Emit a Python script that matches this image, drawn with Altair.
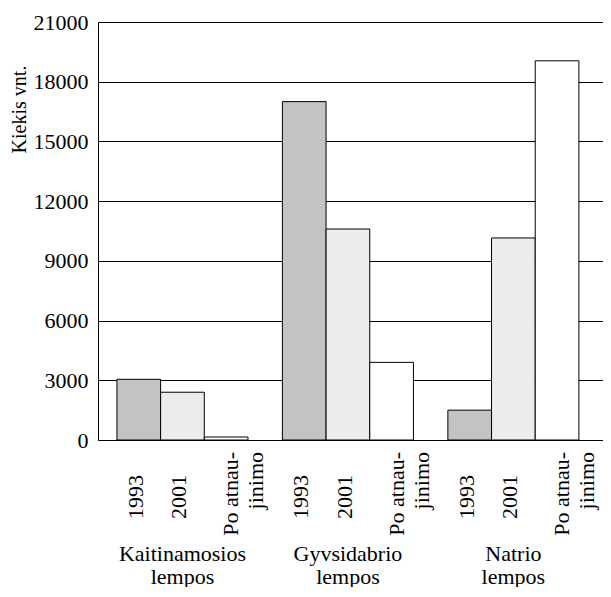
import altair as alt
import pandas as pd

groups = ["Kaitinamosios lempos", "Gyvsidabrio lempos", "Natrio lempos"]
series = ["1993", "2001", "Po atnaujinimo"]
series_labels = [["1993"], ["2001"], ["Po atnau-", "jinimo"]]
v1993 = [3050, 17000, 1500]
v2001 = [2400, 10600, 10150]
vpo = [150, 3900, 19050]
y_ticks = [0, 3000, 6000, 9000, 12000, 15000, 18000, 21000]
colors = ["#c3c3c3", "#ececec", "#ffffff"]

rows = []
for gi, g in enumerate(groups):
    for si, (s, vals) in enumerate(zip(series, [v1993, v2001, vpo])):
        lab = series_labels[si]
        rows.append({
            "group": g,
            "series": s,
            "value": vals[gi],
            "label": lab if len(lab) > 1 else lab[0],
            "multi": len(lab) > 1,
        })
df = pd.DataFrame(rows)

FONT = "Liberation Serif"
FS = 22
H = 418
W = 505

x_enc = alt.X(
    "group:N",
    sort=groups,
    scale=alt.Scale(paddingInner=0.208, paddingOuter=0.13, align=0.44),
    axis=alt.Axis(
        title=None,
        labelAngle=0,
        labelExpr="split(datum.label, ' ')",
        labelPadding=103,
        ticks=False,
        tickSize=0,
        domain=True,
        domainColor="black",
        domainWidth=1,
        labelFont=FONT,
        labelFontSize=FS,
        labelColor="black",
        labelLineHeight=23,
    ),
)
xoff = alt.XOffset("series:N", sort=series, scale=alt.Scale(paddingInner=0, paddingOuter=0))

bars = alt.Chart(df).mark_bar(stroke="black", strokeWidth=1).encode(
    x=x_enc,
    xOffset=xoff,
    y=alt.Y(
        "value:Q",
        scale=alt.Scale(domain=[0, 21000], nice=False),
        axis=alt.Axis(
            values=y_ticks,
            format="d",
            title="Kiekis vnt.",
            grid=True,
            gridColor="black",
            gridOpacity=1,
            gridWidth=1,
            domainColor="black",
            ticks=False,
            tickSize=0,
            labelPadding=10,
            labelFont=FONT,
            labelFontSize=FS,
            labelColor="black",
            titleFont=FONT,
            titleFontSize=20,
            titleFontWeight="normal",
            titleColor="black",
            titleAngle=270,
            titleAlign="center",
            titleBaseline="middle",
            titleX=-79,
            titleY=87,
        ),
    ),
    color=alt.Color("series:N", scale=alt.Scale(domain=series, range=colors), legend=None),
)

single = alt.Chart(df).transform_filter("!datum.multi").mark_text(
    angle=270, align="center", baseline="middle", font=FONT, fontSize=FS, color="black", dy=-3
).encode(
    x=alt.X("group:N", sort=groups),
    xOffset=xoff,
    y=alt.value(475),
    text="label:N",
)

multi = alt.Chart(df).transform_filter("datum.multi").mark_text(
    angle=270, align="right", baseline="middle", font=FONT, fontSize=FS, color="black",
    lineHeight=25, dy=5
).encode(
    x=alt.X("group:N", sort=groups),
    xOffset=xoff,
    y=alt.value(430),
    text="label",
)

chart = alt.layer(bars, single, multi).properties(
    width=W,
    height=H,
    padding={"left": 90, "top": 14, "right": 0, "bottom": 147},
    autosize=alt.AutoSizeParams(type="none"),
).configure_view(strokeWidth=0)

chart.save("out.html", embed_options={"renderer": "svg", "actions": False})
